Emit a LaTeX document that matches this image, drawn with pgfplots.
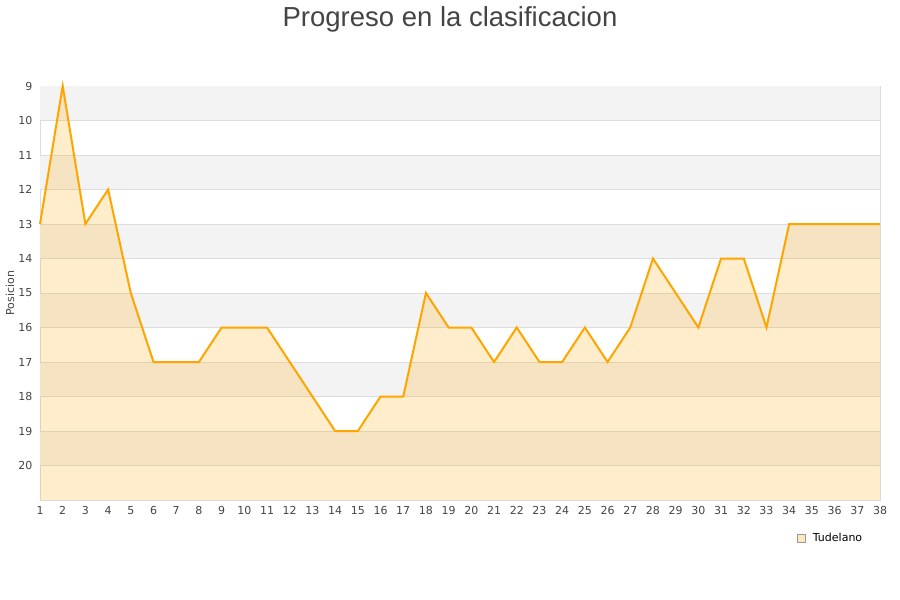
\documentclass[border=0pt]{standalone}
\usepackage{fontspec}
\setmainfont{DejaVu Sans}
\newfontfamily\titlefont{Liberation Sans}
\usepackage{pgfplots}
\usepackage{pgfplotstable}
\pgfplotsset{compat=1.18}

\definecolor{lineor}{HTML}{FFA500}
\definecolor{bandgrey}{HTML}{F3F3F3}
\definecolor{gridgrey}{HTML}{DDDDDD}
\definecolor{textgrey}{HTML}{444444}

% jornada, posicion
\pgfplotstableread{
x y
1 13
2 9
3 13
4 12
5 15
6 17
7 17
8 17
9 16
10 16
11 16
12 17
13 18
14 19
15 19
16 18
17 18
18 15
19 16
20 16
21 17
22 16
23 17
24 17
25 16
26 17
27 16
28 14
29 15
30 16
31 14
32 14
33 16
34 13
35 13
36 13
37 13
38 13
}\posdata

\begin{document}
\begin{tikzpicture}
\path[use as bounding box] (0pt,0pt) rectangle (900pt,600pt);
\node[anchor=base, font=\titlefont\fontsize{27.5}{32}\selectfont, text=textgrey] at (450pt,573pt) {Progreso en la clasificacion};
\begin{axis}[
    at={(40pt,100pt)}, anchor=south west,
    scale only axis,
    width=840pt, height=414pt,
    xmin=1, xmax=38, ymin=9, ymax=21,
    y dir=reverse,
    xtick={1,...,38}, ytick={9,...,20},
    major tick length=0pt,
    axis line style={gridgrey},
    tick label style={font=\fontsize{11}{13}\selectfont, text=textgrey},
    xticklabel style={yshift=-3pt},
    yticklabel style={xshift=-4pt},
    /pgf/number format/assume math mode=true,
    ylabel={Posicion},
    every axis y label/.style={at={(axis description cs:-0.0357,0.5)}, rotate=90, anchor=center, font=\fontsize{11}{13}\selectfont, text=textgrey},
    legend style={at={(axis description cs:0.985,0)}, anchor=north east, yshift=-29pt, draw=none, fill=none, font=\fontsize{11}{13}\selectfont},
    clip=false,
]
% bandas alternas
\fill[bandgrey] (axis cs:1,9) rectangle (axis cs:38,10);
\fill[bandgrey] (axis cs:1,11) rectangle (axis cs:38,12);
\fill[bandgrey] (axis cs:1,13) rectangle (axis cs:38,14);
\fill[bandgrey] (axis cs:1,15) rectangle (axis cs:38,16);
\fill[bandgrey] (axis cs:1,17) rectangle (axis cs:38,18);
\fill[bandgrey] (axis cs:1,19) rectangle (axis cs:38,20);
\pgfplotsinvokeforeach{10,...,20}{
  \draw[gridgrey, line width=1pt] (axis cs:1,#1) -- (axis cs:38,#1);
}
\addplot[draw=none, fill=lineor, fill opacity=0.2, forget plot] table {\posdata} -- (axis cs:38,21) -- (axis cs:1,21) -- cycle;
\addplot[lineor, line width=2pt, mark=none, forget plot] table {\posdata};
\addlegendimage{legend image code/.code={\draw[draw=gray!80, fill=lineor!25] (0pt,-4pt) rectangle (8pt,4pt); \path (14pt,0pt);}}
\addlegendentry{Tudelano}
\end{axis}
\end{tikzpicture}
\end{document}
